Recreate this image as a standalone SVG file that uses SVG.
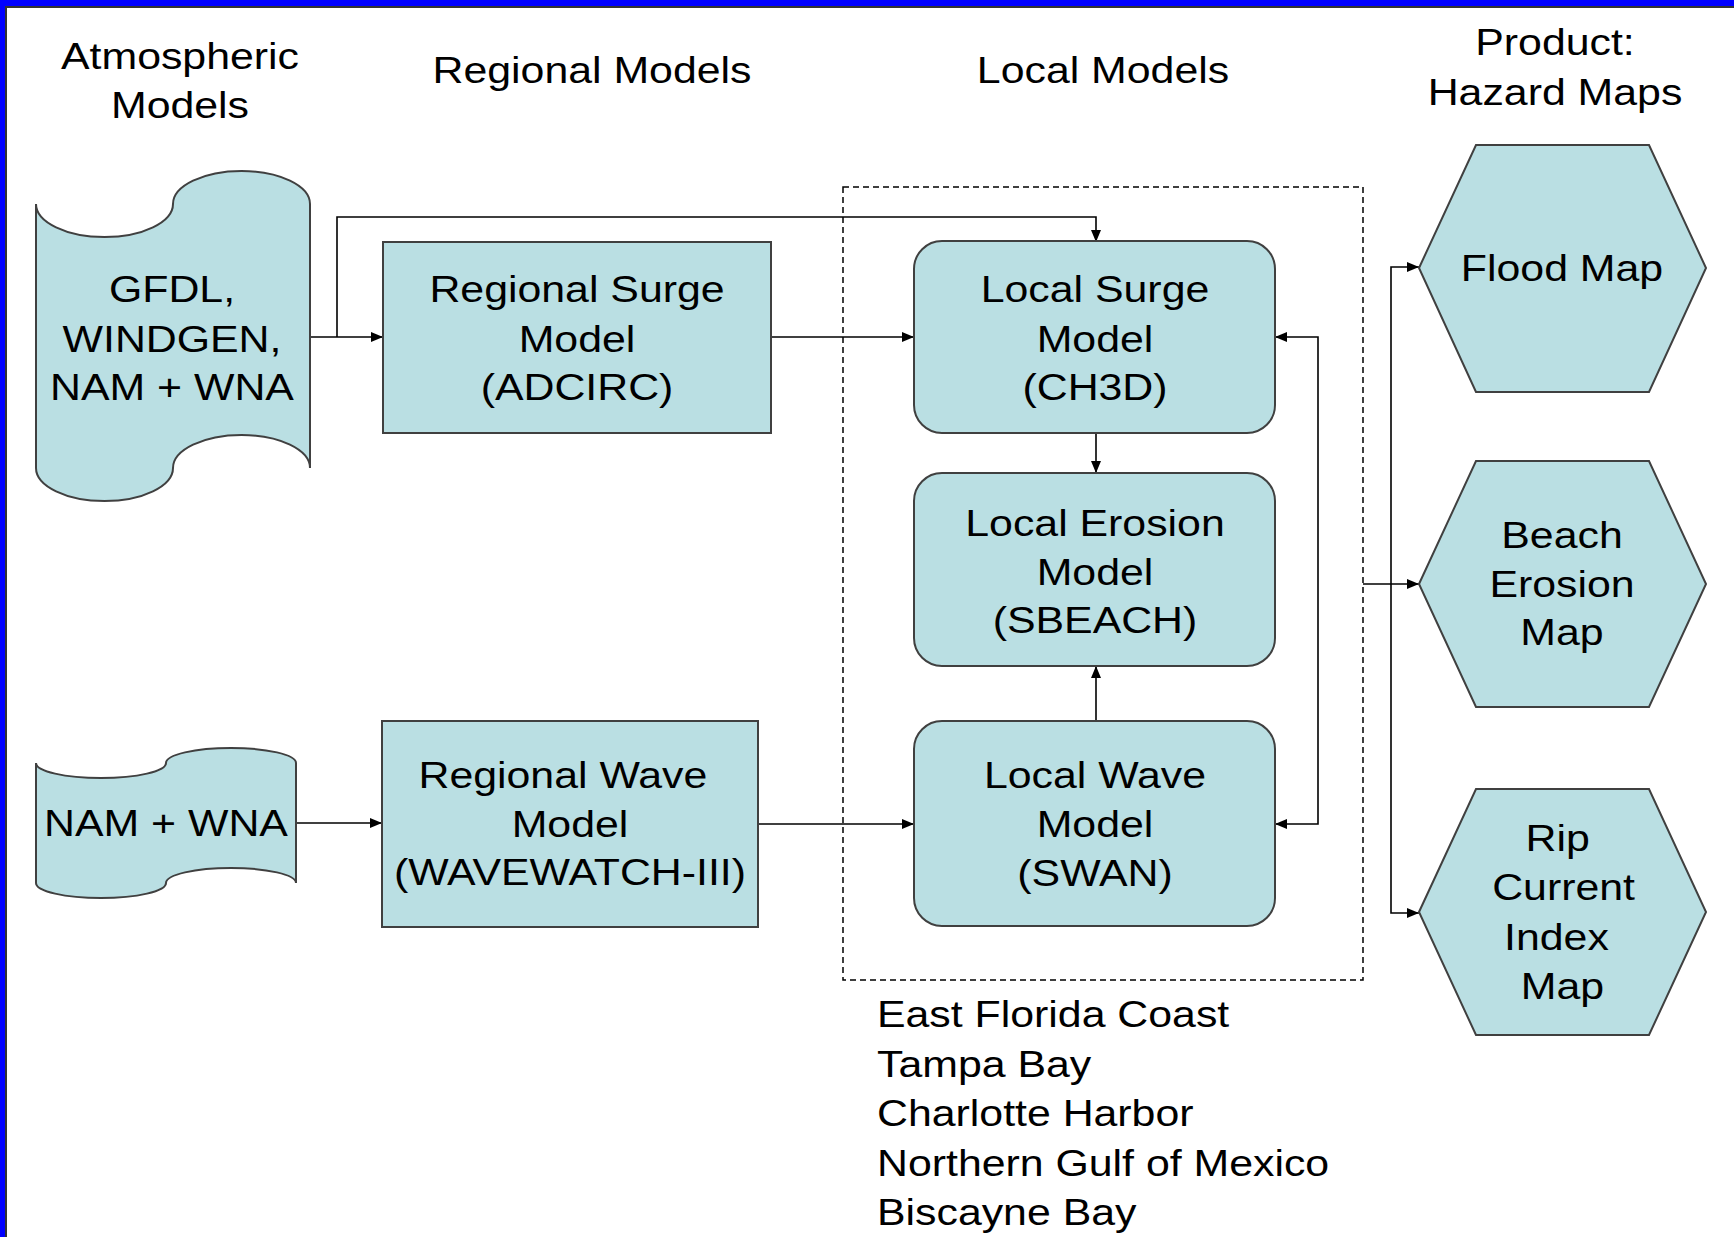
<svg xmlns="http://www.w3.org/2000/svg" width="1734" height="1237" viewBox="0 0 1734 1237">
<style>
.t{font-family:"Liberation Sans",Arial,sans-serif;font-size:36px;fill:#000;text-anchor:middle}
.l{text-anchor:start}
.shape{fill:#BADFE3;stroke:#404040;stroke-width:2}
.con{fill:none;stroke:#000;stroke-width:1.6}
.dash{fill:none;stroke:#000;stroke-width:1.5;stroke-dasharray:6 4}
</style>
<defs>
<marker id="arr" markerUnits="userSpaceOnUse" markerWidth="13" markerHeight="11" refX="12" refY="5" orient="auto-start-reverse">
<path d="M0,0 L12,5 L0,10 Z" fill="#000"/>
</marker>
</defs>
<rect x="0" y="0" width="1734" height="1237" fill="#fff"/>
<g id="frame">
<rect x="0" y="0" width="1734" height="6" fill="#0000FF"/>
<rect x="0" y="0" width="5" height="1237" fill="#0000FF"/>
<rect x="5" y="6" width="1729" height="2" fill="#333"/>
<rect x="5" y="6" width="2" height="1231" fill="#333"/>
</g>
<g id="headers">
<text class="t" transform="matrix(1.19 0 0 1 180 69)"><tspan x="0" y="0">Atmospheric</tspan><tspan x="0" y="49">Models</tspan></text>
<text class="t" transform="matrix(1.19 0 0 1 592 83)">Regional Models</text>
<text class="t" transform="matrix(1.19 0 0 1 1103 83)">Local Models</text>
<text class="t" transform="matrix(1.19 0 0 1 1555 55)"><tspan x="0" y="0">Product:</tspan><tspan x="0" y="50">Hazard Maps</tspan></text>
</g>
<g id="local-group">
<rect class="dash" x="843" y="187" width="520" height="793"/>
</g>
<g id="connectors">
<path class="con" d="M310,337 H383" marker-end="url(#arr)"/>
<path class="con" d="M337,337 V217 H1096 V242" marker-end="url(#arr)"/>
<path class="con" d="M771,337 H914" marker-end="url(#arr)"/>
<path class="con" d="M1096,433 V473" marker-end="url(#arr)"/>
<path class="con" d="M1096,721 V666" marker-end="url(#arr)"/>
<path class="con" d="M1275,337 H1318 V824 H1275" marker-start="url(#arr)" marker-end="url(#arr)"/>
<path class="con" d="M296,823 H382" marker-end="url(#arr)"/>
<path class="con" d="M758,824 H914" marker-end="url(#arr)"/>
<path class="con" d="M1363,584 H1419" marker-end="url(#arr)"/>
<path class="con" d="M1419,267 H1391 V913 H1419" marker-start="url(#arr)" marker-end="url(#arr)"/>
</g>
<g id="atm-gfdl">
<path class="shape" d="M36,204 A68.5,33 0 0 0 173,204 A68.5,33 0 0 1 310,204 L310,468 A68.5,33 0 0 0 173,468 A68.5,33 0 0 1 36,468 Z"/>
<text class="t" transform="matrix(1.19 0 0 1 172 302)"><tspan x="0" y="0">GFDL,</tspan><tspan x="0" y="50">WINDGEN,</tspan><tspan x="0" y="98">NAM + WNA</tspan></text>
</g>
<g id="atm-nam">
<path class="shape" d="M36,763 A65,15 0 0 0 166,763 A65,15 0 0 1 296,763 L296,883 A65,15 0 0 0 166,883 A65,15 0 0 1 36,883 Z"/>
<text class="t" transform="matrix(1.19 0 0 1 166 836)">NAM + WNA</text>
</g>
<g id="regional-surge">
<rect class="shape" x="383" y="242" width="388" height="191"/>
<text class="t" transform="matrix(1.19 0 0 1 577 302)"><tspan x="0" y="0">Regional Surge</tspan><tspan x="0" y="50">Model</tspan><tspan x="0" y="98">(ADCIRC)</tspan></text>
</g>
<g id="regional-wave">
<rect class="shape" x="382" y="721" width="376" height="206"/>
<text class="t" transform="matrix(1.19 0 0 1 570 788)"><tspan x="-6" y="0">Regional Wave</tspan><tspan x="0" y="49">Model</tspan><tspan x="0" y="97">(WAVEWATCH-III)</tspan></text>
</g>
<g id="local-surge">
<rect class="shape" x="914" y="241" width="361" height="192" rx="28"/>
<text class="t" transform="matrix(1.19 0 0 1 1095 302)"><tspan x="0" y="0">Local Surge</tspan><tspan x="0" y="50">Model</tspan><tspan x="0" y="98">(CH3D)</tspan></text>
</g>
<g id="local-erosion">
<rect class="shape" x="914" y="473" width="361" height="193" rx="28"/>
<text class="t" transform="matrix(1.19 0 0 1 1095 536)"><tspan x="0" y="0">Local Erosion</tspan><tspan x="0" y="49">Model</tspan><tspan x="0" y="97">(SBEACH)</tspan></text>
</g>
<g id="local-wave">
<rect class="shape" x="914" y="721" width="361" height="205" rx="28"/>
<text class="t" transform="matrix(1.19 0 0 1 1095 788)"><tspan x="0" y="0">Local Wave</tspan><tspan x="0" y="49">Model</tspan><tspan x="0" y="98">(SWAN)</tspan></text>
</g>
<g id="flood-map">
<polygon class="shape" points="1419,268 1476,145 1649,145 1706,268 1649,392 1476,392"/>
<text class="t" transform="matrix(1.19 0 0 1 1562 281)">Flood Map</text>
</g>
<g id="beach-erosion-map">
<polygon class="shape" points="1419,584 1476,461 1649,461 1706,584 1649,707 1476,707"/>
<text class="t" transform="matrix(1.19 0 0 1 1562 548)"><tspan x="0" y="0">Beach</tspan><tspan x="0" y="49">Erosion</tspan><tspan x="0" y="97">Map</tspan></text>
</g>
<g id="rip-current-map">
<polygon class="shape" points="1419,912 1476,789 1649,789 1706,912 1649,1035 1476,1035"/>
<text class="t" transform="matrix(1.19 0 0 1 1560 851)"><tspan x="-2" y="0">Rip</tspan><tspan x="3" y="49">Current</tspan><tspan x="-3" y="99">Index</tspan><tspan x="2" y="148">Map</tspan></text>
</g>
<g id="regions">
<text class="t l" transform="matrix(1.19 0 0 1 877 1027)"><tspan x="0" y="0">East Florida Coast</tspan><tspan x="0" y="50">Tampa Bay</tspan><tspan x="0" y="99">Charlotte Harbor</tspan><tspan x="0" y="149">Northern Gulf of Mexico</tspan><tspan x="0" y="198">Biscayne Bay</tspan></text>
</g>
</svg>
